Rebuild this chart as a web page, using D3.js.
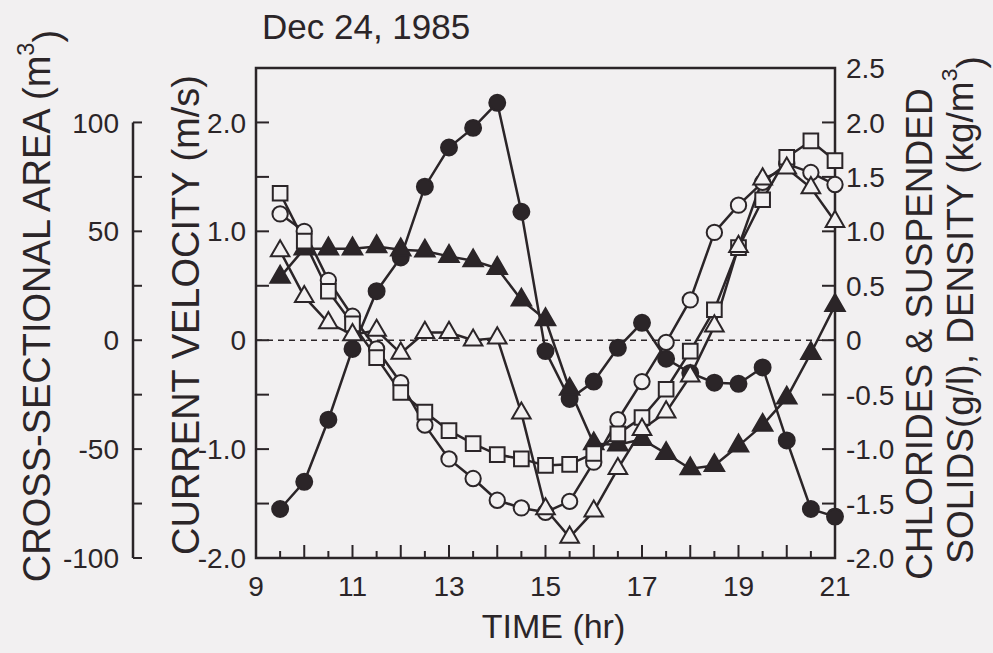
<!DOCTYPE html>
<html>
<head>
<meta charset="utf-8">
<script src="https://cdn.jsdelivr.net/npm/d3@7"></script>
<style>
  body { margin: 0; background: #f2f0f1; }
  svg { display: block; font-family: "Liberation Sans", Arial, sans-serif; }
</style>
</head>
<body>
<div id="chart"></div>
<script>
//Data (hours, values on the right-hand / velocity scale)
const times = [9.5, 10, 10.5, 11, 11.5, 12, 12.5, 13, 13.5, 14, 14.5, 15,
               15.5, 16, 16.5, 17, 17.5, 18, 18.5, 19, 19.5, 20, 20.5, 21];

const filledCircle = [-1.55, -1.30, -0.73, -0.08, 0.45, 0.76, 1.41, 1.77, 1.95, 2.18, 1.18, -0.10,
                      -0.54, -0.38, -0.07, 0.16, -0.17, -0.30, -0.39, -0.40, -0.25, -0.92, -1.55, -1.62];
const filledTriangle = [0.58, 0.84, 0.84, 0.84, 0.86, 0.83, 0.82, 0.77, 0.73, 0.66, 0.37, 0.19,
                        -0.45, -0.95, -0.96, -0.91, -1.04, -1.18, -1.15, -0.97, -0.78, -0.53, -0.12, 0.32];
const openCircle = [1.16, 1.00, 0.55, 0.22, -0.08, -0.39, -0.78, -1.09, -1.27, -1.47, -1.54, -1.58,
                    -1.48, -1.12, -0.73, -0.38, -0.02, 0.37, 0.99, 1.24, 1.45, 1.62, 1.54, 1.43];
const openSquare = [1.35, 0.91, 0.45, 0.15, -0.16, -0.48, -0.66, -0.83, -0.95, -1.05, -1.09, -1.15,
                    -1.14, -1.04, -0.86, -0.71, -0.45, -0.10, 0.28, 0.85, 1.29, 1.68, 1.83, 1.65];
const openTriangle = [0.82, 0.40, 0.16, 0.05, 0.09, -0.12, 0.07, 0.07, 0.00, 0.02, -0.67, -1.55,
                      -1.81, -1.57, -1.18, -0.82, -0.66, -0.33, 0.13, 0.86, 1.48, 1.58, 1.40, 1.09];

//Tick values
const xTickLabels = [9, 11, 13, 15, 17, 19, 21];
const velTickLabels = [-2, -1, 0, 1, 2];
const areaTickLabels = [-100, -50, 0, 50, 100];
const rightTickLabels = [-2, -1.5, -1, -0.5, 0, 0.5, 1, 1.5, 2, 2.5];

const width = 993, height = 653;
const ink = "#2b2528";
const bg = "#f2f0f1";
const plot = { left: 256, right: 835, top: 68, bottom: 558 };

//plain hyphen for negatives, like the original figure
const fmt = d => d === 0 ? "0" : d.toFixed(1);

const svg = d3.select("#chart").append("svg")
  .attr("width", width)
  .attr("height", height)
  .style("background", bg);

//Scales
const x = d3.scaleLinear().domain([9, 21]).range([plot.left, plot.right]);
const y = d3.scaleLinear().domain([-2, 2.5]).range([plot.bottom, plot.top]);
const yArea = d3.scaleLinear().domain([-100, 100]).range([y(-2), y(2)]);

//Plot frame
svg.append("rect")
  .attr("x", plot.left).attr("y", plot.top)
  .attr("width", plot.right - plot.left).attr("height", plot.bottom - plot.top)
  .attr("fill", "none").attr("stroke", ink).attr("stroke-width", 2.5);

//Dashed zero line
svg.append("line")
  .attr("x1", plot.left).attr("x2", plot.right)
  .attr("y1", y(0)).attr("y2", y(0))
  .attr("stroke", ink).attr("stroke-width", 1.6)
  .attr("stroke-dasharray", "6,5");

//Bottom axis, ticks inward: long every hour, short every half hour
const xTicks = d3.range(9.5, 21, 0.5);
svg.append("g").selectAll("line").data(xTicks).join("line")
  .attr("x1", d => x(d)).attr("x2", d => x(d))
  .attr("y1", plot.bottom)
  .attr("y2", d => plot.bottom - (d % 1 === 0 ? 13 : 7))
  .attr("stroke", ink).attr("stroke-width", 2);

svg.append("g").selectAll("text").data(xTickLabels).join("text")
  .attr("x", d => x(d)).attr("y", 596)
  .attr("text-anchor", "middle")
  .attr("font-size", 28).attr("fill", ink)
  .text(d => d);

//Left velocity axis
const velTicks = d3.range(-1.5, 2.01, 0.5);
svg.append("g").selectAll("line").data(velTicks).join("line")
  .attr("x1", plot.left).attr("x2", plot.left + 13)
  .attr("y1", d => y(d)).attr("y2", d => y(d))
  .attr("stroke", ink).attr("stroke-width", 2);

svg.append("g").selectAll("text").data(velTickLabels).join("text")
  .attr("x", 246).attr("y", d => y(d)).attr("dy", "0.36em")
  .attr("text-anchor", "end")
  .attr("font-size", 28).attr("fill", ink)
  .text(fmt);

//Right axis
const rightTicks = d3.range(-1.5, 2.51, 0.5);
svg.append("g").selectAll("line").data(rightTicks).join("line")
  .attr("x1", plot.right).attr("x2", plot.right - 13)
  .attr("y1", d => y(d)).attr("y2", d => y(d))
  .attr("stroke", ink).attr("stroke-width", 2);

svg.append("g").selectAll("text").data(rightTickLabels).join("text")
  .attr("x", 846).attr("y", d => y(d)).attr("dy", "0.36em")
  .attr("text-anchor", "start")
  .attr("font-size", 28).attr("fill", ink)
  .text(fmt);

//Outer cross-sectional area axis
const areaX = 133;
svg.append("line")
  .attr("x1", areaX).attr("x2", areaX)
  .attr("y1", yArea(-100)).attr("y2", yArea(100))
  .attr("stroke", ink).attr("stroke-width", 2.5);

svg.append("g").selectAll("line").data(d3.range(-100, 101, 25)).join("line")
  .attr("x1", areaX).attr("x2", areaX + 9)
  .attr("y1", d => yArea(d)).attr("y2", d => yArea(d))
  .attr("stroke", ink).attr("stroke-width", 2);

svg.append("g").selectAll("text").data(areaTickLabels).join("text")
  .attr("x", 119).attr("y", d => yArea(d)).attr("dy", "0.36em")
  .attr("text-anchor", "end")
  .attr("font-size", 28).attr("fill", ink)
  .text(d => String(d));

//Lines
const line = d3.line().x(d => x(d[0])).y(d => y(d[1]));
const series = [
  { values: filledCircle, shape: d3.symbolCircle, size: 200, fill: ink },
  { values: filledTriangle, shape: d3.symbolTriangle, size: 165, fill: ink },
  { values: openCircle, shape: d3.symbolCircle, size: 185, fill: bg },
  { values: openSquare, shape: d3.symbolSquare, size: 215, fill: bg },
  { values: openTriangle, shape: d3.symbolTriangle, size: 150, fill: bg }
];

series.forEach(s => {
  const pts = times.map((t, i) => [t, s.values[i]]);
  svg.append("path")
    .datum(pts)
    .attr("d", line)
    .attr("fill", "none")
    .attr("stroke", ink)
    .attr("stroke-width", 2.5);
});

//Markers
series.forEach(s => {
  const pts = times.map((t, i) => [t, s.values[i]]);
  svg.append("g").selectAll("path").data(pts).join("path")
    .attr("d", d3.symbol().type(s.shape).size(s.size))
    .attr("transform", d => `translate(${x(d[0])},${y(d[1])})`)
    .attr("fill", s.fill)
    .attr("stroke", ink)
    .attr("stroke-width", 2);
});

//Titles
svg.append("text")
  .attr("x", 262).attr("y", 39)
  .attr("font-size", 35).attr("fill", ink)
  .text("Dec 24, 1985");

svg.append("text")
  .attr("x", (plot.left + plot.right) / 2 + 8).attr("y", 638)
  .attr("text-anchor", "middle")
  .attr("font-size", 34).attr("fill", ink)
  .text("TIME (hr)");

//Rotated axis titles, squeezed along the text to the length seen in the figure
function vTitle(cx, cy, size, span, parts) {
  const t = svg.append("text")
    .attr("text-anchor", "middle")
    .attr("font-size", size).attr("fill", ink);
  parts.forEach(p => {
    const ts = t.append("tspan").text(p.text);
    if (p.sup) ts.attr("dy", "-0.7em").attr("font-size", size * 0.62);
    if (p.after) ts.attr("dy", "0.7em");
  });
  const w = t.node().getBBox().width;
  const k = Math.min(1, span / w);
  t.attr("transform", `translate(${cx},${cy}) rotate(-90) scale(${k},1)`);
}

vTitle(50, 306, 38, 580, [{ text: "CROSS-SECTIONAL AREA (m" }, { text: "3", sup: true }, { text: ")", after: true }]);
vTitle(199, 315, 38, 480, [{ text: "CURRENT VELOCITY (m/s)" }]);
vTitle(932, 334, 37, 527, [{ text: "CHLORIDES & SUSPENDED" }]);
vTitle(973, 310, 37, 578, [{ text: "SOLIDS(g/l), DENSITY (kg/m" }, { text: "3", sup: true }, { text: ")", after: true }]);
</script>
</body>
</html>
